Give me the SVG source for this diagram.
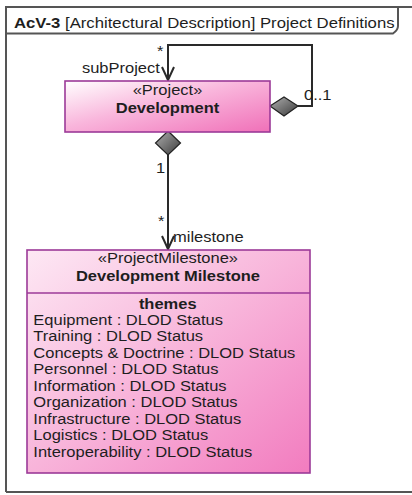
<svg xmlns="http://www.w3.org/2000/svg" width="412" height="495" viewBox="0 0 412 495">
  <defs>
    <linearGradient id="pinkGrad" x1="0" y1="0" x2="1" y2="1">
      <stop offset="0" stop-color="#ffffff"/>
      <stop offset="0.45" stop-color="#f9b6dc"/>
      <stop offset="1" stop-color="#f070b8"/>
    </linearGradient>
    <linearGradient id="pinkGrad2" x1="0" y1="0" x2="1" y2="1">
      <stop offset="0" stop-color="#fde8f4"/>
      <stop offset="0.5" stop-color="#f8b4da"/>
      <stop offset="1" stop-color="#f27cbf"/>
    </linearGradient>
    <linearGradient id="diaGrad" x1="0" y1="0" x2="1" y2="1">
      <stop offset="0" stop-color="#b0b0b0"/>
      <stop offset="1" stop-color="#3a3a3a"/>
    </linearGradient>
    <style>
      text { font-family: "Liberation Sans", Arial, sans-serif; font-size: 15px; fill: #1e1e1e; }
      .b { font-weight: bold; }
      .c { text-anchor: middle; }
      .box { stroke: #9c3a98; stroke-width: 1.6; }
      .line { fill: none; stroke: #2a2a2a; stroke-width: 2; }
      .dia { fill: url(#diaGrad); stroke: #222; stroke-width: 1.2; }
      .frame { fill: none; stroke: #555; stroke-width: 2; }
    </style>
  </defs>

  <rect width="412" height="495" fill="#ffffff"/>

  <g id="frame">
    <path class="frame" d="M6,492 V7 H412"/>
    <path class="frame" d="M6,492 H412" stroke="#cfcfcf" stroke-width="1"/>
    <path class="frame" d="M6,33.5 H393 Q398,30 398,26 V7"/>
    <text transform="scale(1.1 1)" x="12.7" y="28" textLength="346" lengthAdjust="spacingAndGlyphs"><tspan class="b">AcV-3</tspan> [Architectural Description] Project Definitions</text>
  </g>

  <g id="connectors">
    <path class="line" d="M298,106 H312 V45 H168 V80"/>
    <path class="line" d="M162,67 L168,80 L174,67"/>
    <path class="line" d="M168,155 V249"/>
    <path class="line" d="M162,236 L168,249 L174,236"/>
    <polygon class="dia" points="270,106 284,97 298,106 284,116"/>
    <polygon class="dia" points="168,131 180.5,143 168,155 155.5,143"/>
    <text transform="scale(1.1 1)" x="142.7" y="56">*</text>
    <text transform="scale(1.1 1)" x="74.5" y="73">subProject</text>
    <text transform="scale(1.1 1)" x="276.4" y="100">0..1</text>
    <text transform="scale(1.1 1)" x="141.8" y="173">1</text>
    <text transform="scale(1.1 1)" x="143.6" y="226">*</text>
    <text transform="scale(1.1 1)" x="157.3" y="242">milestone</text>
  </g>

  <g id="development">
    <rect class="box" x="65" y="81" width="205" height="51" fill="url(#pinkGrad)"/>
    <text class="c" transform="scale(1.1 1)" x="152.3" y="95">«Project»</text>
    <text class="c b" transform="scale(1.1 1)" x="152.3" y="113">Development</text>
  </g>

  <g id="development-milestone">
    <rect class="box" x="27" y="250" width="283" height="223" fill="url(#pinkGrad2)"/>
    <line class="box" x1="27" y1="293" x2="310" y2="293"/>
    <text class="c" transform="scale(1.1 1)" x="152.7" y="263">«ProjectMilestone»</text>
    <text class="c b" transform="scale(1.1 1)" x="152.7" y="281">Development Milestone</text>
    <text class="c b" transform="scale(1.1 1)" x="152.5" y="309">themes</text>
    <g transform="scale(1.1 1)">
      <text x="30.3" y="325">Equipment : DLOD Status</text>
      <text x="30.3" y="341.5">Training : DLOD Status</text>
      <text x="30.3" y="358">Concepts &amp; Doctrine : DLOD Status</text>
      <text x="30.3" y="374.5">Personnel : DLOD Status</text>
      <text x="30.3" y="391">Information : DLOD Status</text>
      <text x="30.3" y="407.5">Organization : DLOD Status</text>
      <text x="30.3" y="424">Infrastructure : DLOD Status</text>
      <text x="30.3" y="440.5">Logistics : DLOD Status</text>
      <text x="30.3" y="457">Interoperability : DLOD Status</text>
    </g>
  </g>
</svg>
